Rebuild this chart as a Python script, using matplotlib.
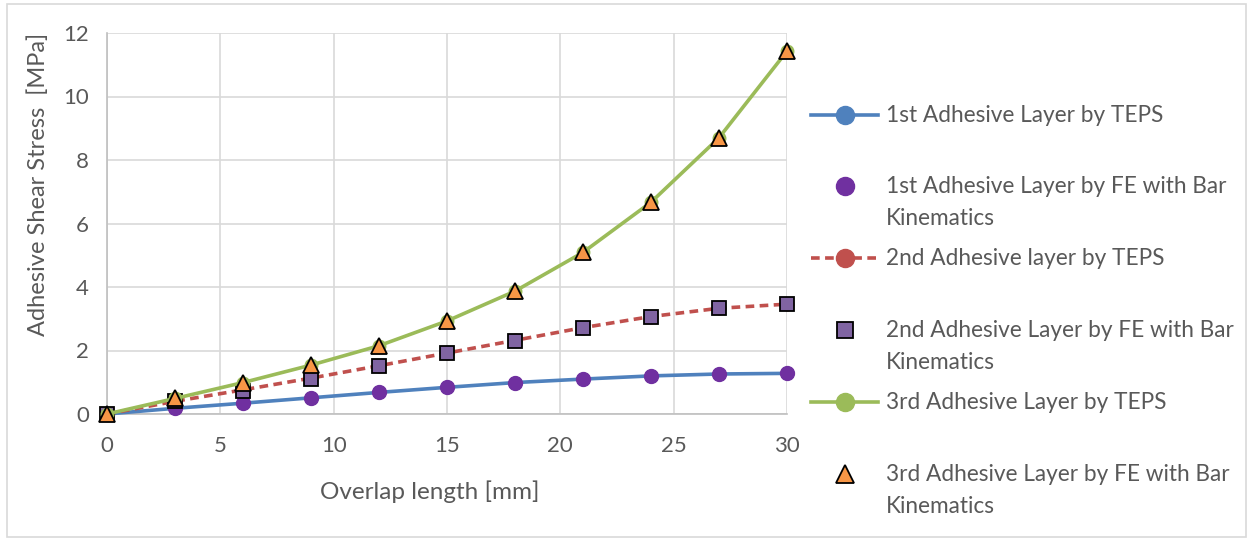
import numpy as np
import matplotlib
matplotlib.use("Agg")
import matplotlib.pyplot as plt
from matplotlib.lines import Line2D
from matplotlib.patches import Rectangle

plt.rcParams['font.family'] = ['Lato', 'DejaVu Sans']

# overlap length [mm]
x = np.array([0, 3, 6, 9, 12, 15, 18, 21, 24, 27, 30])

# 1st layer
teps1 = np.array([0, 0.18, 0.34, 0.51, 0.68, 0.84, 0.99, 1.10, 1.20, 1.26, 1.28])
fe1 = np.array([0, 0.18, 0.34, 0.51, 0.68, 0.84, 0.99, 1.10, 1.20, 1.26, 1.28])
# 2nd layer
teps2 = np.array([0, 0.40, 0.76, 1.13, 1.52, 1.92, 2.32, 2.72, 3.07, 3.33, 3.46])
fe2 = np.array([0, 0.42, 0.72, 1.10, 1.51, 1.91, 2.31, 2.72, 3.07, 3.33, 3.45])
# 3rd layer
teps3 = np.array([0, 0.49, 0.99, 1.54, 2.15, 2.93, 3.87, 5.09, 6.67, 8.70, 11.43])
fe3 = np.array([0, 0.49, 0.99, 1.54, 2.15, 2.93, 3.87, 5.09, 6.67, 8.70, 11.43])

labels = ["1st Adhesive Layer by TEPS",
          "1st Adhesive Layer by FE with Bar\nKinematics",
          "2nd Adhesive layer by TEPS",
          "2nd Adhesive Layer by FE with Bar\nKinematics",
          "3rd Adhesive Layer by TEPS",
          "3rd Adhesive Layer by FE with Bar\nKinematics"]

blue, purple, red = '#4f81bd', '#7030a0', '#c0504d'
sq_fill, green, orange = '#8064a2', '#9bbb59', '#f79646'
txt = '#595959'

W, H = 1250, 540
fig = plt.figure(figsize=(W / 100, H / 100), dpi=100)
ax = fig.add_axes([107 / W, 1 - 414 / H, 680 / W, 381 / H])

styles = [
    dict(color=blue, lw=2.6, marker='o', ms=9, mfc=blue, mec=blue),
    dict(ls='none', marker='o', ms=10, mfc=purple, mec=purple),
    dict(color=red, lw=2.6, ls=(0, (2.4, 1.5)), marker='o', ms=9, mfc=red, mec=red),
    dict(ls='none', marker='s', ms=10, mfc=sq_fill, mec='black', mew=1.3),
    dict(color=green, lw=2.6, marker='o', ms=9, mfc=green, mec=green),
    dict(ls='none', marker='^', ms=11, mfc=orange, mec='black', mew=1.3),
]
series = [teps1, fe1, teps2, fe2, teps3, fe3]
for i, (y, st) in enumerate(zip(series, styles)):
    ax.plot(x, y, clip_on=False, zorder=3 + i, **st)

ax.set_xlim(0, 30)
ax.set_ylim(0, 12)
ax.set_xticks(np.arange(0, 31, 5))
ax.set_yticks(np.arange(0, 13, 2))
ax.grid(True, color='#d9d9d9', lw=1.2)
ax.set_axisbelow(True)
for s in ['top', 'right']:
    ax.spines[s].set_visible(False)
for s in ['left', 'bottom']:
    ax.spines[s].set_color('#bfbfbf')
    ax.spines[s].set_linewidth(1.2)
ax.tick_params(length=0, labelsize=16, labelcolor=txt)
ax.tick_params(axis='x', pad=16)
ax.tick_params(axis='y', pad=13)

fig.text(38 / W, 1 - 184 / H, "Adhesive Shear Stress  [MPa]", rotation=90,
         ha='center', va='center', fontsize=17, color=txt)
fig.text(430 / W, 1 - 492 / H, "Overlap length [mm]",
         ha='center', va='center', fontsize=17.5, color=txt)

# legend drawn by hand
rows = [115, 186, 258, 330, 402, 474]
leg_ms = [13, 13, 13, 12, 13, 13]
for yy, lab, st, ms in zip(rows, labels, styles, leg_ms):
    yf = 1 - yy / H
    if st.get('ls') != 'none':
        fig.add_artist(Line2D([811 / W, 878 / W], [yf, yf], transform=fig.transFigure,
                              color=st['color'], lw=st['lw'], ls=st.get('ls', '-')))
    fig.add_artist(Line2D([845 / W], [yf], transform=fig.transFigure, ls='none',
                          marker=st['marker'], ms=ms, mfc=st['mfc'], mec=st['mec'],
                          mew=st.get('mew', 1)))
    fig.text(886 / W, yf + 10 / H, lab, ha='left', va='top', fontsize=16.3,
             color=txt, linespacing=1.65)

fig.add_artist(Rectangle((7 / W, 3 / H), 1239 / W, 533 / H, transform=fig.transFigure,
                         fill=False, ec='#d9d9d9', lw=1.2))

fig.savefig("out.png", dpi=100)
